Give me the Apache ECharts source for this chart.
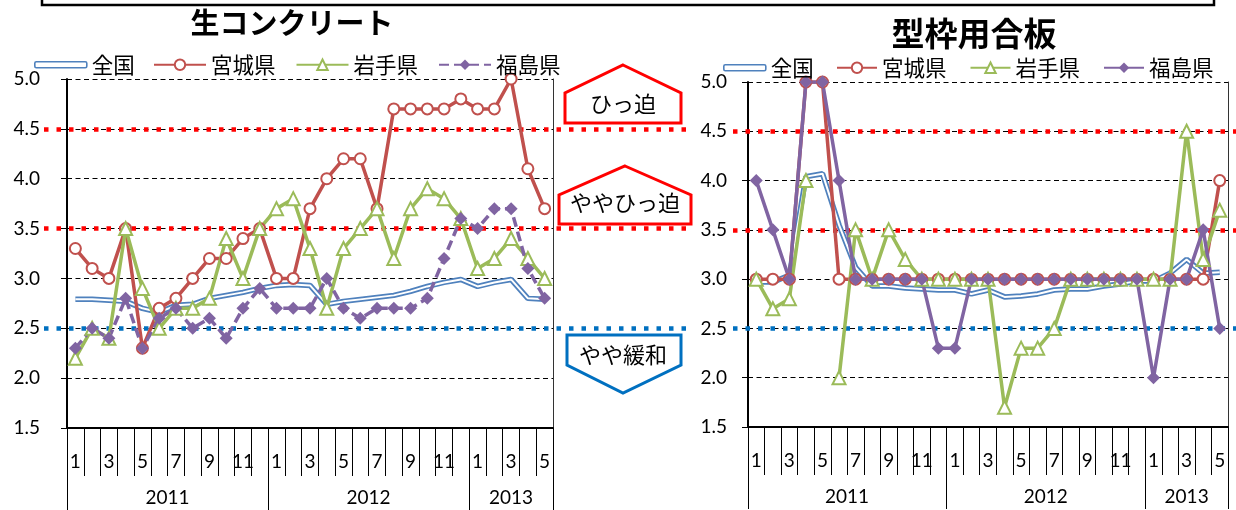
<!DOCTYPE html>
<html>
<head>
<meta charset="utf-8">
<script src="https://cdn.jsdelivr.net/npm/echarts@6/dist/echarts.min.js"></script>
<style>
  html, body { margin: 0; padding: 0; background: #fff; }
  #main { width: 1236px; height: 510px; }
</style>
</head>
<body>
<div id="main"></div>
<script>
// 月ラベル (2011/1 - 2013/5)
const months = ['1','2','3','4','5','6','7','8','9','10','11','12',
                '1','2','3','4','5','6','7','8','9','10','11','12',
                '1','2','3','4','5']
const yearNames = ['2011', '2012', '2013']
const yearLengths = [12, 12, 5]

// 判断基準
const levels = [4.5, 3.5, 2.5]
const levelColors = ['#FF0000', '#FF0000', '#0070C0']

// 生コンクリート
const concreteNational = [2.79,2.79,2.78,2.77,2.70,2.66,2.73,2.74,2.80,2.83,2.86,2.90,
                          2.93,2.94,2.93,2.74,2.77,2.79,2.81,2.83,2.87,2.92,2.96,2.99,
                          2.92,2.96,2.99,2.80,2.79]
const concreteMiyagi = [3.3,3.1,3.0,3.5,2.3,2.7,2.8,3.0,3.2,3.2,3.4,3.5,
                        3.0,3.0,3.7,4.0,4.2,4.2,3.7,4.7,4.7,4.7,4.7,4.8,
                        4.7,4.7,5.0,4.1,3.7]
const concreteIwate = [2.2,2.5,2.4,3.5,2.9,2.5,2.7,2.7,2.8,3.4,3.0,3.5,
                       3.7,3.8,3.3,2.7,3.3,3.5,3.7,3.2,3.7,3.9,3.8,3.6,
                       3.1,3.2,3.4,3.2,3.0]
const concreteFukushima = [2.3,2.5,2.4,2.8,2.3,2.6,2.7,2.5,2.6,2.4,2.7,2.9,
                           2.7,2.7,2.7,3.0,2.7,2.6,2.7,2.7,2.7,2.8,3.2,3.6,
                           3.5,3.7,3.7,3.1,2.8]

// 型枠用合板
const plywoodNational = [2.97,2.97,3.04,4.04,4.07,3.55,3.12,2.93,2.93,2.91,2.90,2.89,
                         2.89,2.85,2.89,2.82,2.83,2.85,2.89,2.90,2.90,2.93,2.95,2.98,
                         2.98,3.06,3.20,3.06,3.07]
const plywoodMiyagi = [3.0,3.0,3.0,5.0,5.0,3.0,3.0,3.0,3.0,3.0,3.0,3.0,
                       3.0,3.0,3.0,3.0,3.0,3.0,3.0,3.0,3.0,3.0,3.0,3.0,
                       3.0,3.0,3.0,3.0,4.0]
const plywoodIwate = [3.0,2.7,2.8,4.0,null,2.0,3.5,3.0,3.5,3.2,3.0,3.0,
                      3.0,3.0,3.0,1.7,2.3,2.3,2.5,3.0,3.0,3.0,3.0,3.0,
                      3.0,3.0,4.5,3.2,3.7]
const plywoodFukushima = [4.0,3.5,3.0,5.0,5.0,4.0,3.0,3.0,3.0,3.0,3.0,2.3,
                          2.3,3.0,3.0,3.0,3.0,3.0,3.0,3.0,3.0,3.0,3.0,3.0,
                          2.0,3.0,3.0,3.5,2.5]

// 色
const cNational = '#4F81BD'
const cMiyagi = '#C0504D'
const cIwate = '#9BBB59'
const cFukushima = '#8064A2'

const jpFont = 'Noto Sans CJK JP'
const numFont = 'Lato'

// 年ラベル用カテゴリ
const yearCats = []
const yearStarts = []
const yearLabelIdx = []
let pos = 0
yearNames.forEach((y, i) => {
  yearStarts.push(pos)
  yearLabelIdx.push(pos + Math.floor(yearLengths[i] / 2))
  for (let k = 0; k < yearLengths[i]; k++) yearCats.push(y)
  pos += yearLengths[i]
})

function xAxes(gridIndex) {
  return [
    {
      type: 'category',
      gridIndex,
      data: months,
      position: 'bottom',
      boundaryGap: true,
      axisLine: { show: true, lineStyle: { color: '#000', width: 2 } },
      axisTick: { show: true, interval: 0, length: 48, lineStyle: { color: '#000', width: 1 } },
      axisLabel: { interval: 1, margin: 24, color: '#000', fontSize: 19, fontFamily: numFont },
      splitLine: { show: false }
    },
    {
      type: 'category',
      gridIndex,
      data: yearCats,
      position: 'bottom',
      boundaryGap: true,
      axisLine: { show: false },
      axisTick: {
        show: true,
        interval: (i) => yearStarts.includes(i),
        length: 82,
        lineStyle: { color: '#000', width: 1 }
      },
      axisLabel: {
        interval: (i) => yearLabelIdx.includes(i),
        margin: 60,
        color: '#000',
        fontSize: 19,
        fontFamily: numFont,
        // 偶数月数の年は境界が中心になるので半区間左へ
        formatter: (v, i) => {
          const k = yearLabelIdx.indexOf(i)
          return yearLengths[k] % 2 === 0 ? '{s|' + v + '}' : v
        },
        rich: {
          s: { padding: [0, 17, 0, 0], fontSize: 19, fontFamily: numFont, color: '#000' }
        }
      },
      splitLine: { show: false }
    }
  ]
}

function yAxes(gridIndex, labelMargin) {
  return [
    {
      type: 'value',
      gridIndex,
      min: 1.5,
      max: 5,
      interval: 0.5,
      position: 'left',
      axisLine: { show: true, lineStyle: { color: '#000', width: 2 } },
      axisTick: { show: true, length: 6, lineStyle: { color: '#000' } },
      axisLabel: {
        margin: labelMargin,
        formatter: (v) => v.toFixed(1),
        color: '#000',
        fontSize: 19,
        fontFamily: numFont
      },
      splitLine: { show: true, lineStyle: { color: '#000', width: 1, type: [5, 3.5] } }
    },
    {
      type: 'value',
      gridIndex,
      min: 1.5,
      max: 5,
      position: 'right',
      axisLine: { show: true, lineStyle: { color: '#333', width: 1 } },
      axisTick: { show: false },
      axisLabel: { show: false },
      splitLine: { show: false }
    }
  ]
}

function levelLines(x0, x1) {
  return {
    silent: true,
    symbol: ['none', 'none'],
    z: 1,
    label: { show: false },
    data: levels.map((v, i) => [
      { x: x0, yAxis: v, lineStyle: { color: levelColors[i], width: 4.5, type: [4.5, 8] } },
      { x: x1, yAxis: v }
    ])
  }
}

function makeSeries(axisBase, national, miyagi, iwate, fukushima, dashed, lineRange) {
  const common = {
    type: 'line',
    xAxisIndex: axisBase,
    yAxisIndex: axisBase,
    showAllSymbol: true,
    animation: false
  }
  return [
    {
      ...common,
      name: '全国',
      data: national,
      symbol: 'none',
      color: cNational,
      clip: false,
      lineStyle: { width: 5.5, color: cNational },
      markLine: levelLines(lineRange[0], lineRange[1])
    },
    {
      ...common,
      name: '全国_inner',
      data: national,
      symbol: 'none',
      color: '#fff',
      silent: true,
      lineStyle: { width: 2, color: '#fff' }
    },
    {
      ...common,
      name: '宮城県',
      data: miyagi,
      color: cMiyagi,
      symbol: 'emptyCircle',
      symbolSize: 11,
      itemStyle: { borderWidth: 2.2 },
      lineStyle: { width: 3.5 }
    },
    {
      ...common,
      name: '岩手県',
      data: iwate,
      color: cIwate,
      symbol: 'emptyTriangle',
      symbolSize: 13,
      itemStyle: { borderWidth: 2.2 },
      lineStyle: { width: 3.5 }
    },
    {
      ...common,
      name: '福島県',
      data: fukushima,
      color: cFukushima,
      symbol: 'diamond',
      symbolSize: 13,
      lineStyle: { width: 3.5, type: dashed ? [10, 5] : 'solid' }
    }
  ]
}

const legendText = { fontSize: 21.5, fontFamily: jpFont, color: '#000' }
const nationalIcon = {
  name: '全国',
  icon: 'roundRect',
  itemStyle: { color: '#fff', borderColor: cNational, borderWidth: 1.6 }
}

const chart = echarts.init(document.getElementById('main'))

const option = {
  animation: false,
  backgroundColor: '#fff',
  title: [
    {
      text: '生コンクリート',
      left: 287,
      top: 3,
      textAlign: 'center',
      textStyle: { fontSize: 29, fontWeight: 'bold', fontFamily: jpFont, color: '#000' }
    },
    {
      text: '型枠用合板',
      left: 969,
      top: 12,
      textAlign: 'center',
      textStyle: { fontSize: 33, fontWeight: 'bold', fontFamily: jpFont, color: '#000' }
    }
  ],
  legend: [
    { data: [nationalIcon], left: 29, top: 49, itemWidth: 52, itemHeight: 6, selectedMode: false, textStyle: legendText },
    { data: ['宮城県', '岩手県', '福島県'], left: 148, top: 49, itemWidth: 52, itemHeight: 13, itemGap: 20, selectedMode: false, textStyle: legendText },
    { data: [nationalIcon], left: 718, top: 52, itemWidth: 42, itemHeight: 6, selectedMode: false, textStyle: legendText },
    {
      data: ['宮城県', '岩手県', { name: '福島県', lineStyle: { type: 'solid' } }],
      left: 831, top: 52, itemWidth: 40, itemHeight: 13, itemGap: 23, selectedMode: false, textStyle: legendText
    }
  ],
  grid: [
    { left: 67, right: 683, top: 79, height: 349 },
    { left: 748, right: 8, top: 82, height: 345 }
  ],
  xAxis: [...xAxes(0), ...xAxes(1)],
  yAxis: [...yAxes(0, 27), ...yAxes(1, 21)],
  series: [
    ...makeSeries(0, concreteNational, concreteMiyagi, concreteIwate, concreteFukushima, true, [44, 690]),
    ...makeSeries(2, plywoodNational, plywoodMiyagi, plywoodIwate, plywoodFukushima, false, [733, 1236])
  ],
  graphic: [
    // 上部の枠
    { type: 'rect', shape: { x: 42, y: -20, width: 1172, height: 25 }, style: { fill: 'none', stroke: '#000', lineWidth: 2.5 } },
    // ひっ迫
    {
      type: 'polygon',
      shape: { points: [[623, 65], [681, 93], [681, 123], [565, 123], [565, 93]] },
      style: { fill: '#fff', stroke: '#FF0000', lineWidth: 3 }
    },
    { type: 'text', x: 623, y: 104, style: { text: 'ひっ迫', fontSize: 22, fontFamily: jpFont, fill: '#000', align: 'center', verticalAlign: 'middle' } },
    // ややひっ迫
    {
      type: 'polygon',
      shape: { points: [[625, 166], [691, 195], [691, 224], [559, 224], [559, 195]] },
      style: { fill: '#fff', stroke: '#FF0000', lineWidth: 3 }
    },
    { type: 'text', x: 625, y: 203, style: { text: 'ややひっ迫', fontSize: 22, fontFamily: jpFont, fill: '#000', align: 'center', verticalAlign: 'middle' } },
    // やや緩和
    {
      type: 'polygon',
      shape: { points: [[567, 335], [681, 335], [681, 365], [623, 393], [567, 365]] },
      style: { fill: '#fff', stroke: '#0070C0', lineWidth: 3 }
    },
    { type: 'text', x: 623, y: 355, style: { text: 'やや緩和', fontSize: 22, fontFamily: jpFont, fill: '#000', align: 'center', verticalAlign: 'middle' } }
  ]
}

chart.setOption(option)
</script>
</body>
</html>
